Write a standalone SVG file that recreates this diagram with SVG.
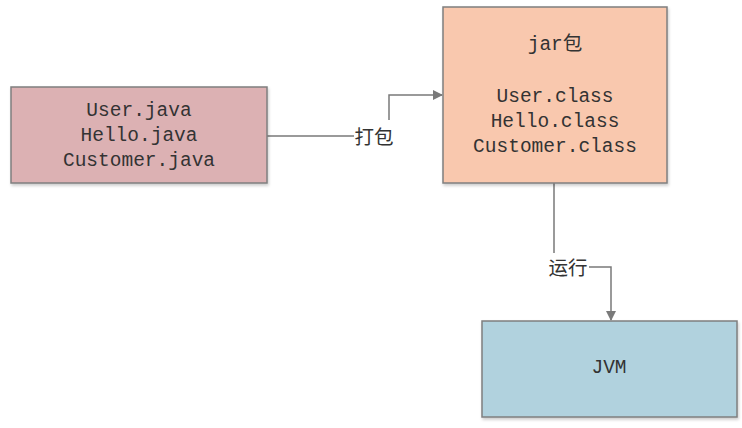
<svg xmlns="http://www.w3.org/2000/svg" width="742" height="428" viewBox="0 0 742 428">
<defs>
<marker id="arr" markerWidth="10" markerHeight="10" refX="9" refY="5" orient="auto" markerUnits="userSpaceOnUse">
<path d="M0,0 L10,5 L0,10 Z" fill="#7a7a7a"/>
</marker>
<filter id="sh" x="-5%" y="-5%" width="110%" height="115%">
<feDropShadow dx="1" dy="2" stdDeviation="1.5" flood-color="#000" flood-opacity="0.2"/>
</filter>
</defs>
<style>
.box{stroke:#7f7f7f;stroke-width:1.5;filter:url(#sh)}
.t{font-family:"Liberation Mono","Noto Sans CJK SC",monospace;font-size:19.5px;fill:#333;text-anchor:middle;dominant-baseline:central}
.lbl{font-family:"Noto Sans CJK SC",sans-serif;font-size:19.5px;fill:#333;text-anchor:middle;dominant-baseline:central}
.c{fill:none;stroke:#7a7a7a;stroke-width:1.5}
</style>
<rect width="742" height="428" fill="#fff"/>
<g id="connectors">
<path class="c" d="M267,136 H354 M389,120 V95 H442" marker-end="url(#arr)"/>
<path class="c" d="M554,183 V253 M589,267 H611 V320" marker-end="url(#arr)"/>
<text class="lbl" x="374" y="135">打包</text>
<text class="lbl" x="568" y="266">运行</text>
</g>
<g id="src">
<rect class="box" x="11" y="87" width="256" height="96" fill="#dcb1b3"/>
<text class="t" x="139" y="111">User.java</text>
<text class="t" x="139" y="136">Hello.java</text>
<text class="t" x="139" y="161">Customer.java</text>
</g>
<g id="jar">
<rect class="box" x="443" y="7" width="224" height="176" fill="#f9c8ae"/>
<text class="t" x="555" y="45">jar包</text>
<text class="t" x="555" y="97">User.class</text>
<text class="t" x="555" y="122">Hello.class</text>
<text class="t" x="555" y="147">Customer.class</text>
</g>
<g id="jvm">
<rect class="box" x="482" y="321" width="255" height="96" fill="#b1d2de"/>
<text class="t" x="609" y="368">JVM</text>
</g>
</svg>
